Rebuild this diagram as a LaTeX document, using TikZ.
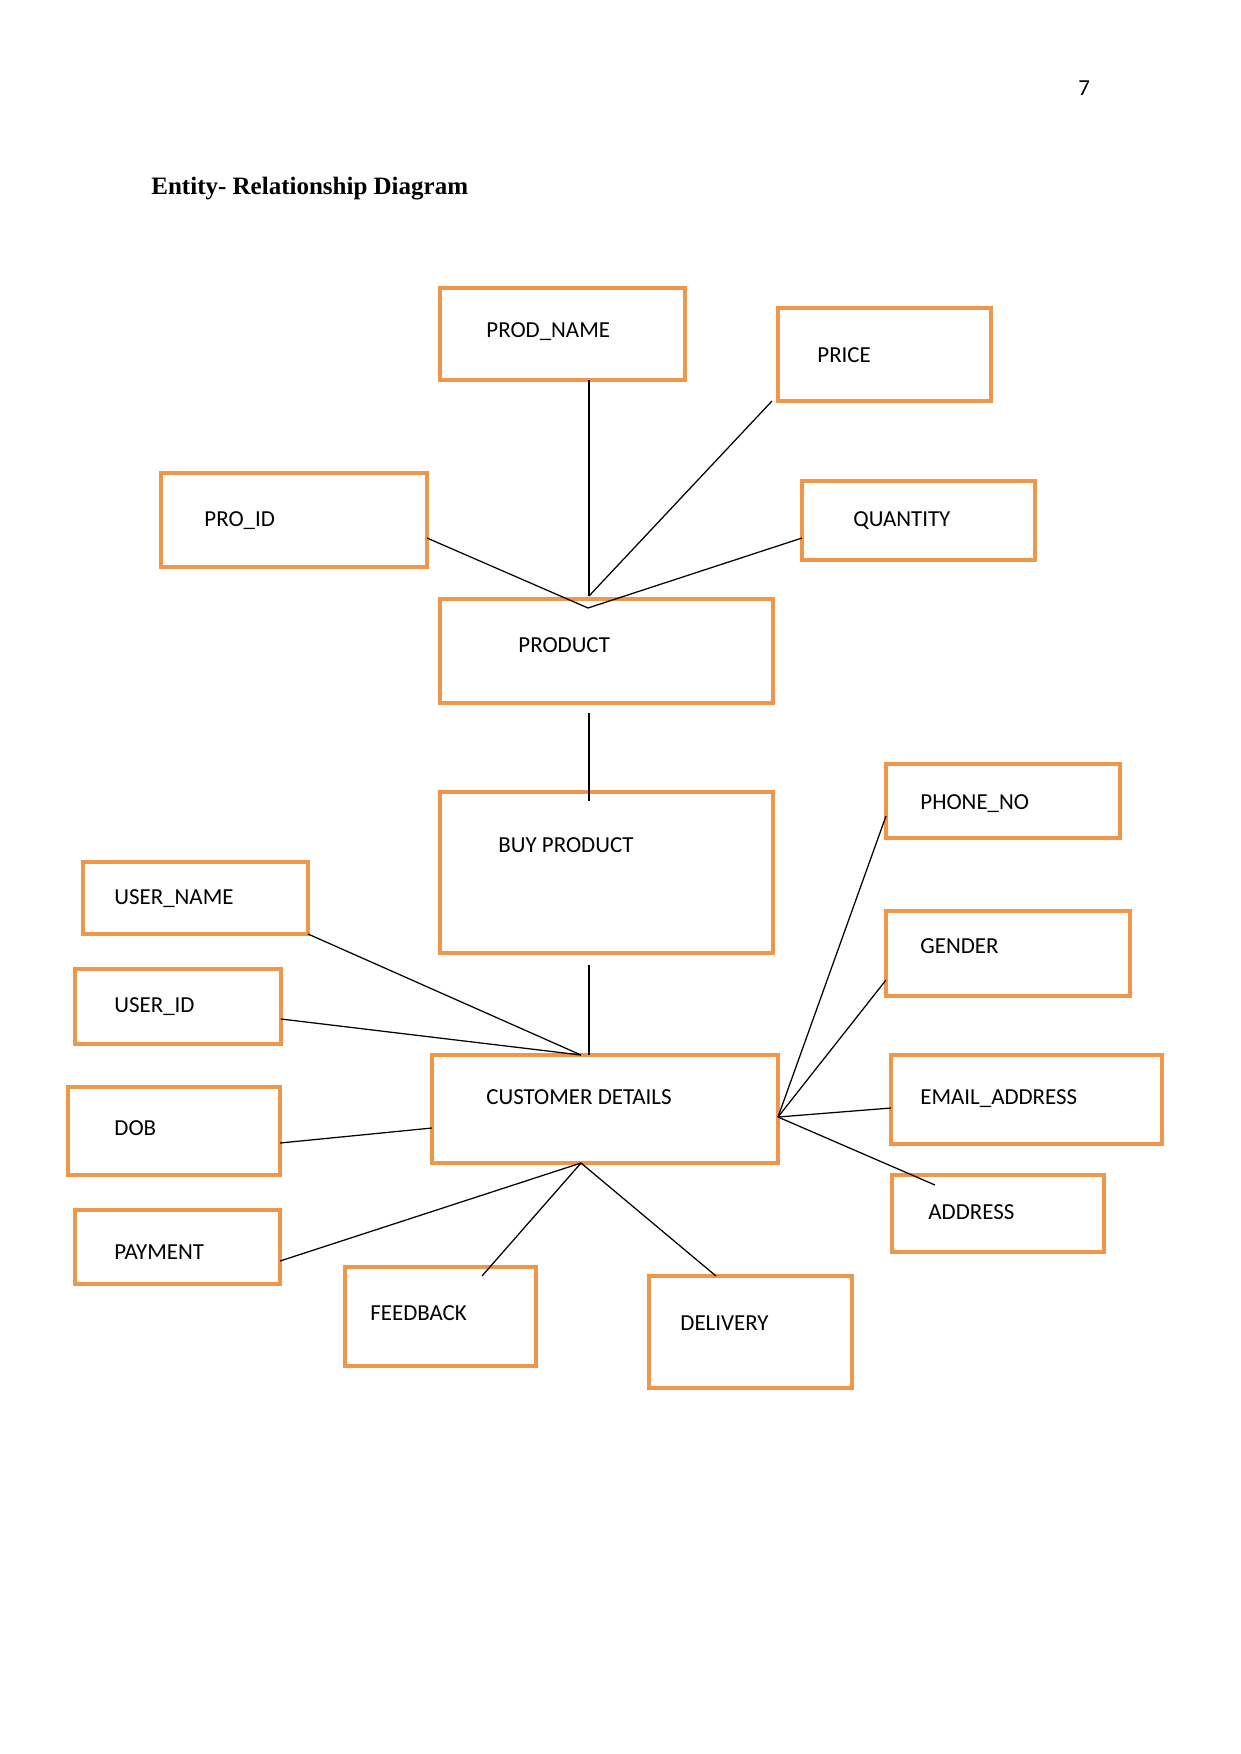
\documentclass[tikz,border=0pt]{standalone}
\usepackage{fontspec}
\setmainfont{Carlito}
\newfontfamily\titlefont{Liberation Serif}
\usetikzlibrary{fit}
\definecolor{boxorange}{RGB}{240,150,72}
\tikzset{
  ent/.style={draw=boxorange, line width=1.8pt, inner sep=0pt, rectangle},
  lbl/.style={inner sep=0pt, anchor=base west, font=\fontsize{11}{13}\selectfont},
  conn/.style={draw=black, line width=0.6pt},
}
\begin{document}
\begin{tikzpicture}[x=0.48pt, y=-0.48pt]
\useasboundingbox (0,0) rectangle (1241,1754);
\fill[white] (0,0) rectangle (1241,1754);

\node[inner sep=0pt, anchor=base west, font=\fontsize{11}{13}\selectfont] (pgno) at (1078,95) {7};
\node[inner sep=0pt, anchor=base west, font=\titlefont\bfseries\fontsize{12}{14}\selectfont] (title) at (151,194) {Entity- Relationship Diagram};

% boxes
\node[ent, fit={(440,288) (685,380)}] (pn) {};
\node[ent, fit={(778,308) (991,401)}] (price) {};
\node[ent, fit={(161,473) (427,567)}] (pid) {};
\node[ent, fit={(802,481) (1035,560)}] (qty) {};
\node[ent, fit={(440,599) (773,703)}] (prod) {};
\node[ent, fit={(440,792) (773,953)}] (buy) {};
\node[ent, fit={(886,764) (1120,838)}] (phone) {};
\node[ent, fit={(83,862) (308,934)}] (uname) {};
\node[ent, fit={(886,911) (1130,996)}] (gender) {};
\node[ent, fit={(75,969) (281,1044)}] (uid) {};
\node[ent, fit={(432,1055) (778,1163)}] (cust) {};
\node[ent, fit={(891,1055) (1162,1144)}] (email) {};
\node[ent, fit={(68,1087) (280,1175)}] (dob) {};
\node[ent, fit={(892,1175) (1104,1252)}] (addr) {};
\node[ent, fit={(75,1210) (280,1284)}] (pay) {};
\node[ent, fit={(345,1267) (536,1366)}] (fb) {};
\node[ent, fit={(649,1276) (852,1388)}] (del) {};

% labels
\node[lbl] (pnt) at (486,337) {PROD\_NAME};
\node[lbl] (pricet) at (817,362) {PRICE};
\node[lbl] (pidt) at (204,526) {PRO\_ID};
\node[lbl] (qtyt) at (853,526) {QUANTITY};
\node[lbl] (prodt) at (518,652) {PRODUCT};
\node[lbl] (buyt) at (498,852) {BUY PRODUCT};
\node[lbl] (phonet) at (920,809) {PHONE\_NO};
\node[lbl] (unamet) at (114,904) {USER\_NAME};
\node[lbl] (gendert) at (920,953) {GENDER};
\node[lbl] (uidt) at (114,1012) {USER\_ID};
\node[lbl] (custt) at (486,1104) {CUSTOMER DETAILS};
\node[lbl] (emailt) at (920,1104) {EMAIL\_ADDRESS};
\node[lbl] (dobt) at (114,1135) {DOB};
\node[lbl] (addrt) at (928,1219) {ADDRESS};
\node[lbl] (payt) at (114,1259) {PAYMENT};
\node[lbl] (fbt) at (370,1320) {FEEDBACK};
\node[lbl] (delt) at (680,1330) {DELIVERY};

% connector end points
\coordinate (hubA) at (589,596);
\coordinate (hubB) at (588,608);
\coordinate (pnB) at (589,380);
\coordinate (priceB) at (772,401);
\coordinate (pidR) at (427,538);
\coordinate (qtyL) at (802,538);
\coordinate (prodB) at (589,713);
\coordinate (buyT) at (589,801);
\coordinate (buyB) at (589,965);
\coordinate (custT) at (589,1055);
\coordinate (hubC) at (581,1055);
\coordinate (unameB) at (308,934);
\coordinate (uidR) at (281,1019);
\coordinate (dobR) at (280,1143);
\coordinate (custL) at (432,1128);
\coordinate (hubD) at (581,1163);
\coordinate (payR) at (280,1261);
\coordinate (fbT) at (482,1276);
\coordinate (delT) at (716,1276);
\coordinate (hubE) at (778,1117);
\coordinate (phoneL) at (886,816);
\coordinate (genderL) at (886,980);
\coordinate (emailL) at (891,1108);
\coordinate (addrT) at (935,1185);

% connectors
\draw[conn] (pnB) -- (hubA);
\draw[conn] (priceB) -- (hubA);
\draw[conn] (pidR) -- (hubB);
\draw[conn] (qtyL) -- (hubB);
\draw[conn] (prodB) -- (buyT);
\draw[conn] (buyB) -- (custT);
\draw[conn] (unameB) -- (hubC);
\draw[conn] (uidR) -- (hubC);
\draw[conn] (dobR) -- (custL);
\draw[conn] (payR) -- (hubD);
\draw[conn] (fbT) -- (hubD);
\draw[conn] (delT) -- (hubD);
\draw[conn] (phoneL) -- (hubE);
\draw[conn] (genderL) -- (hubE);
\draw[conn] (emailL) -- (hubE);
\draw[conn] (addrT) -- (hubE);
\end{tikzpicture}
\end{document}
